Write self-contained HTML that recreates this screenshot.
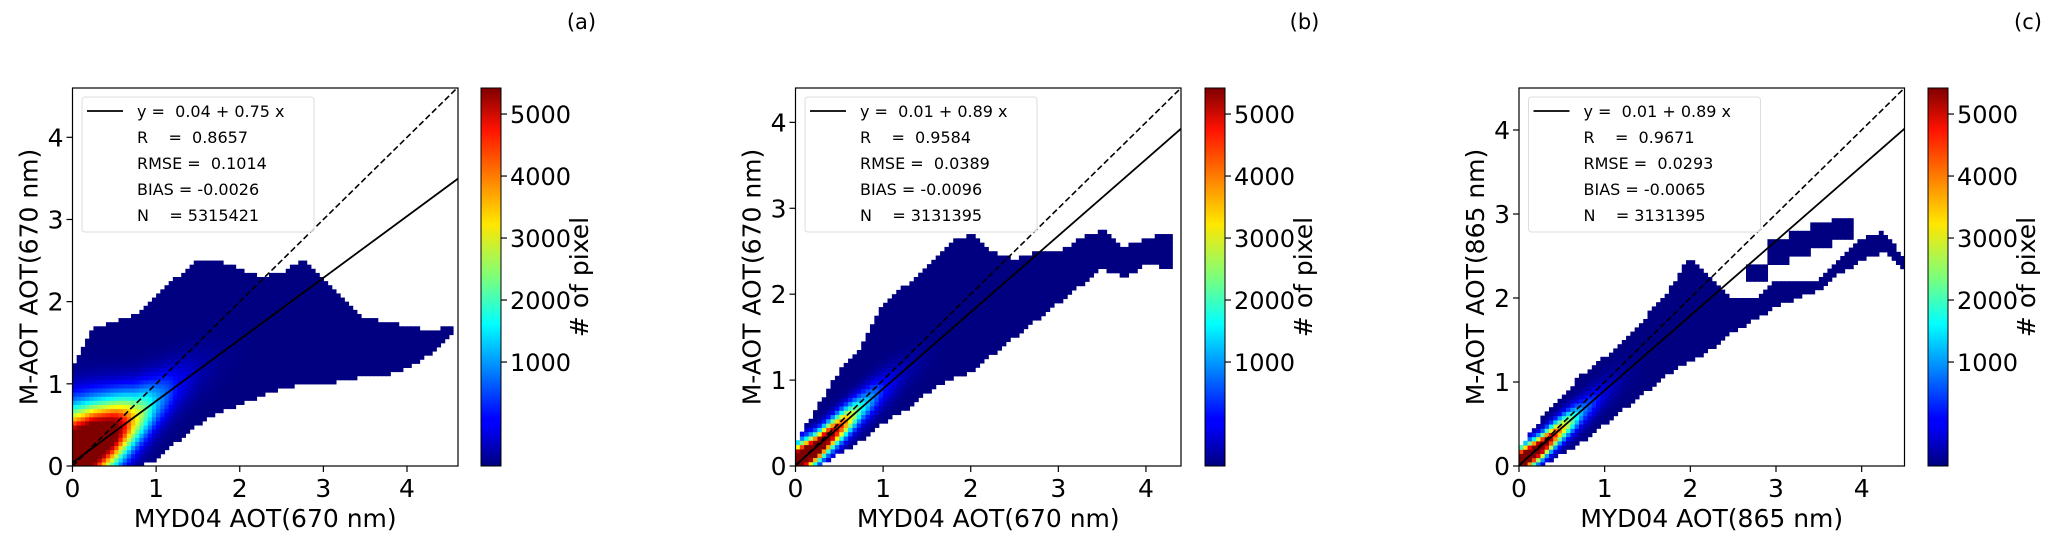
<!DOCTYPE html>
<html><head><meta charset="utf-8"><style>
html,body{margin:0;padding:0;background:#fff;}
svg{display:block;font-family:"DejaVu Sans","Liberation Sans",sans-serif;}
</style></head><body>
<svg id="fig" width="2067" height="550" viewBox="0 0 2067 550" xmlns="http://www.w3.org/2000/svg">
<defs>
<linearGradient id="jet" x1="0" y1="1" x2="0" y2="0">
<stop offset="0" stop-color="#00007f"/><stop offset="0.11" stop-color="#0000ff"/>
<stop offset="0.125" stop-color="#0000ff"/><stop offset="0.34" stop-color="#00dbff"/>
<stop offset="0.375" stop-color="#00ffff"/><stop offset="0.5" stop-color="#7dff7a"/>
<stop offset="0.64" stop-color="#ffe600"/><stop offset="0.66" stop-color="#ffd700"/>
<stop offset="0.89" stop-color="#ff1200"/><stop offset="1" stop-color="#7f0000"/>
</linearGradient>
</defs>
</svg>
<script>
// ---- data: panel (a) ----
const aKnots=[0,0.25,0.5,0.75,1,1.25,1.5,1.75,2,2.25,2.5,2.75,3,3.25,3.5,3.75,4,4.25,4.5];
const aLo=[0,0,0,0,0.05,0.3,0.5,0.65,0.75,0.85,0.95,1.0,1.0,1.05,1.1,1.1,1.2,1.35,1.6];
const aHi=[1.2,1.7,1.75,1.85,2.1,2.3,2.5,2.5,2.4,2.3,2.35,2.5,2.3,2.0,1.8,1.75,1.7,1.65,1.7];
const aCen=[0.15,0.28,0.42,0.58,0.78,0.98,1.15,1.3,1.45,1.6,1.7,1.8,1.9,2,2,2,2,2,2];
const aWid=[0.5,0.45,0.4,0.35,0.32,0.3,0.3,0.3,0.3,0.3,0.3,0.3,0.3,0.3,0.3,0.3,0.3,0.3,0.3];
const aPeak=[7500,7500,6000,3500,1700,700,260,90,30,0,0,0,0,0,0,0,0,0,0];
// ---- data: panel (b) ----
const bKnots=[0,0.25,0.5,0.75,1,1.25,1.5,1.75,2,2.25,2.5,2.75,3,3.25,3.5,3.75,4,4.25];
const bLo=[0,0,0.15,0.3,0.5,0.65,0.85,1.0,1.1,1.3,1.5,1.7,1.9,2.1,2.3,2.2,2.35,2.3];
const bHi=[0.25,0.7,1.1,1.4,1.9,2.1,2.3,2.6,2.7,2.5,2.4,2.5,2.5,2.65,2.75,2.55,2.65,2.7];
const bCen=[0.05,0.22,0.45,0.68,0.9,1.1,1.3,1.5,1.7,1.9,2,2,2,2,2,2,2,2];
const bWid=[0.18,0.16,0.17,0.18,0.2,0.2,0.2,0.2,0.2,0.2,0.2,0.2,0.2,0.2,0.2,0.2,0.2,0.2];
const bPeak=[7500,7000,4800,2200,800,260,80,0,0,0,0,0,0,0,0,0,0,0];
// ---- data: panel (c) ----
const cKnots=[0,0.25,0.5,0.75,1,1.25,1.5,1.75,2,2.25,2.5,2.75,3,3.25,3.5,3.75,4,4.25,4.5];
const cLo=[0,0,0.15,0.3,0.5,0.7,0.9,1.1,1.25,1.4,1.6,1.75,1.9,2.0,2.1,2.3,2.45,2.55,2.3];
const cHi=[0.2,0.55,0.85,1.1,1.3,1.55,1.8,2.1,2.5,2.2,2.0,2.0,2.2,2.2,2.2,2.5,2.7,2.8,2.45];
const cLo2=[null,null,null,null,null,null,null,null,null,null,null,2.2,2.4,2.5,2.6,2.7,null,null,null];
const cHi2=[null,null,null,null,null,null,null,null,null,null,null,2.4,2.7,2.8,2.9,2.95,null,null,null];
const cCen=[0.05,0.22,0.45,0.66,0.88,1.1,1.3,1.5,1.7,1.9,2,2,2,2,2,2,2,2,2];
const cWid=[0.15,0.14,0.15,0.16,0.18,0.2,0.2,0.2,0.2,0.2,0.2,0.2,0.2,0.2,0.2,0.2,0.2,0.2,0.2];
const cPeak=[7500,6500,3800,1400,450,110,0,0,0,0,0,0,0,0,0,0,0,0,0];
// ---- axes / labels ----
const axisTicks=[0,1,2,3,4];
const cbarTicks=[1000,2000,3000,4000,5000];
const cbarMin=-677, cbarMax=5420;
const fitText=[["y =  0.04 + 0.75 x","R    =  0.8657","RMSE =  0.1014","BIAS = -0.0026","N    = 5315421"],
["y =  0.01 + 0.89 x","R    =  0.9584","RMSE =  0.0389","BIAS = -0.0096","N    = 3131395"],
["y =  0.01 + 0.89 x","R    =  0.9671","RMSE =  0.0293","BIAS = -0.0065","N    = 3131395"]];
const fitA=[0.04,0.01,0.01];
const fitB=[0.75,0.89,0.89];
const panelTags=["(a)","(b)","(c)"];
const xTitles=["MYD04 AOT(670 nm)","MYD04 AOT(670 nm)","MYD04 AOT(865 nm)"];
const yTitles=["M-AOT AOT(670 nm)","M-AOT AOT(670 nm)","M-AOT AOT(865 nm)"];
const xMaxs=[4.61,4.4,4.5];
const yMaxs=[4.6,4.4,4.5];

const NS="http://www.w3.org/2000/svg";
const svg=document.getElementById('fig');
function mk(tag,attrs,parent){const e=document.createElementNS(NS,tag);for(const k in attrs)e.setAttribute(k,attrs[k]);(parent||svg).appendChild(e);return e;}
function jet(t){t=Math.max(0,Math.min(1,t));const c=v=>Math.round(255*Math.max(0,Math.min(1,v)));
 return `rgb(${c(1.5-Math.abs(4*t-3))},${c(1.5-Math.abs(4*t-2))},${c(1.5-Math.abs(4*t-1))})`;}
function interp(kn,arr,x){for(let i=0;i<kn.length-1;i++){if(x>=kn[i]&&x<=kn[i+1]){const f=(x-kn[i])/(kn[i+1]-kn[i]);return arr[i]+(arr[i+1]-arr[i])*f;}}return null;}
function nearest(kn,arr,x){let bi=0;for(let i=0;i<kn.length;i++)if(Math.abs(kn[i]-x)<Math.abs(kn[bi]-x))bi=i;return arr[bi];}

const layouts=[{L:72.5,R:458,cb:481},{L:795.5,R:1181,cb:1205},{L:1519,R:1904.5,cb:1928}];
const T=88,B=466;
const dataSets=[
 {kn:aKnots,lo:aLo,hi:aHi,lo2:null,hi2:null,cen:aCen,wid:aWid,peak:aPeak},
 {kn:bKnots,lo:bLo,hi:bHi,lo2:null,hi2:null,cen:bCen,wid:bWid,peak:bPeak},
 {kn:cKnots,lo:cLo,hi:cHi,lo2:cLo2,hi2:cHi2,cen:cCen,wid:cWid,peak:cPeak}];

for(let p=0;p<3;p++){
 const Ly=layouts[p], d=dataSets[p];
 const xs=v=>Ly.L+(Ly.R-Ly.L)*v/xMaxs[p];
 const ys=v=>B-(B-T)*v/yMaxs[p];
 const g=mk('g',{});
 
 
 const clip=mk('clipPath',{id:'clip'+p},g);
 mk('rect',{x:Ly.L,y:T,width:Ly.R-Ly.L,height:B-T},clip);
 const hm=mk('g',{'clip-path':`url(#clip${p})`},g);
 
 
 const step=0.05, last=d.kn[d.kn.length-1];
 for(let x=0;x<xMaxs[p];x+=step){
  const xc=x+step/2; if(xc>last+0.05)break;
  const xq=Math.min(xc,last);
  const lo=interp(d.kn,d.lo,xq),hi=interp(d.kn,d.hi,xq);
  const c=interp(d.kn,d.cen,xq),w=interp(d.kn,d.wid,xq),pk=interp(d.kn,d.peak,xq);
  const lo2=d.lo2?nearest(d.kn,d.lo2,xq):null, hi2=d.hi2?nearest(d.kn,d.hi2,xq):null;
  for(let y=0;y<yMaxs[p];y+=step){
   const yc=y+step/2;
   const in1=yc>=lo&&yc<=hi, in2=lo2!==null&&yc>=lo2&&yc<=hi2;
   if(!in1&&!in2)continue;
   const cnt=1+pk*Math.exp(-Math.pow((yc-c)/w,2));
   const r=mk('rect',{x:xs(x).toFixed(2),y:ys(y+step).toFixed(2),width:(xs(step)-xs(0)+0.6).toFixed(2),height:(ys(0)-ys(step)+0.6).toFixed(2),fill:jet(cnt/cbarMax)},hm);
   
   
  }
 }
 const one=Math.min(xMaxs[p],yMaxs[p]);
 const dl=mk('line',{x1:xs(0),y1:ys(0),x2:xs(one),y2:ys(one),stroke:'#000','stroke-width':1.6,'stroke-dasharray':'6,3'},g);
 
 
 const fl=mk('line',{x1:xs(0),y1:ys(fitA[p]),x2:xs(xMaxs[p]),y2:ys(fitA[p]+fitB[p]*xMaxs[p]),stroke:'#000','stroke-width':1.8},g);
 
 
 const fr=mk('rect',{x:Ly.L,y:T,width:Ly.R-Ly.L,height:B-T,fill:'none',stroke:'#000','stroke-width':1.2},g);
 
 
 for(const t of axisTicks){
  if(t<=xMaxs[p]){
   mk('line',{x1:xs(t),y1:B,x2:xs(t),y2:B+6,stroke:'#000','stroke-width':1.2},g);
   const tx=mk('text',{x:xs(t),y:B+31,'font-size':25,'text-anchor':'middle'},g);tx.textContent=t;
   
   
  }
  if(t<=yMaxs[p]){
   mk('line',{x1:Ly.L-6,y1:ys(t),x2:Ly.L,y2:ys(t),stroke:'#000','stroke-width':1.2},g);
   const ty=mk('text',{x:Ly.L-9,y:ys(t)+9,'font-size':25,'text-anchor':'end'},g);ty.textContent=t;
   
   
  }
 }
 const xt=mk('text',{x:(Ly.L+Ly.R)/2,y:527,'font-size':25,'text-anchor':'middle'},g);xt.textContent=xTitles[p];
 
 
 const ycx=Ly.L-44;
 const yt=mk('text',{x:ycx,y:(T+B)/2,'font-size':25,'text-anchor':'middle',transform:`rotate(-90 ${ycx} ${(T+B)/2})`,dy:9},g);yt.textContent=yTitles[p];
 
 
 const lg=mk('g',{},g);
 
 
 const lx=Ly.L+9.5;
 mk('rect',{x:lx,y:97,width:232,height:135,rx:3,fill:'#fff','fill-opacity':0.8,stroke:'#ddd','stroke-width':1},lg);
 mk('line',{x1:lx+5,y1:111,x2:lx+41,y2:111,stroke:'#000','stroke-width':1.8},lg);
 fitText[p].forEach((s,i)=>{
  const t=mk('text',{x:lx+55,y:111+i*26+6,'font-size':16,'xml:space':'preserve'},lg);t.textContent=s;
  t.style.whiteSpace='pre';
  
  
 });
 const cb=mk('g',{},g);
 
 
 mk('rect',{x:Ly.cb,y:T,width:20,height:B-T,fill:'url(#jet)',stroke:'#000','stroke-width':1},cb);
 const cy=v=>B-(B-T)*(v-cbarMin)/(cbarMax-cbarMin);
 for(const v of cbarTicks){
  mk('line',{x1:Ly.cb+20,y1:cy(v),x2:Ly.cb+26,y2:cy(v),stroke:'#000','stroke-width':1.2},cb);
  const t=mk('text',{x:Ly.cb+29,y:cy(v)+9,'font-size':24},cb);t.textContent=v;
  
  
 }
 const lbx=Ly.cb+107;
 const cl=mk('text',{x:lbx,y:(T+B)/2,'font-size':25,'text-anchor':'middle',transform:`rotate(-90 ${lbx} ${(T+B)/2})`},cb);cl.textContent='# of pixel';
 
 
 const tg=mk('text',{x:Ly.L+509,y:29,'font-size':21,'text-anchor':'middle'},g);tg.textContent=panelTags[p];
 
 
}
</script>
</body></html>
